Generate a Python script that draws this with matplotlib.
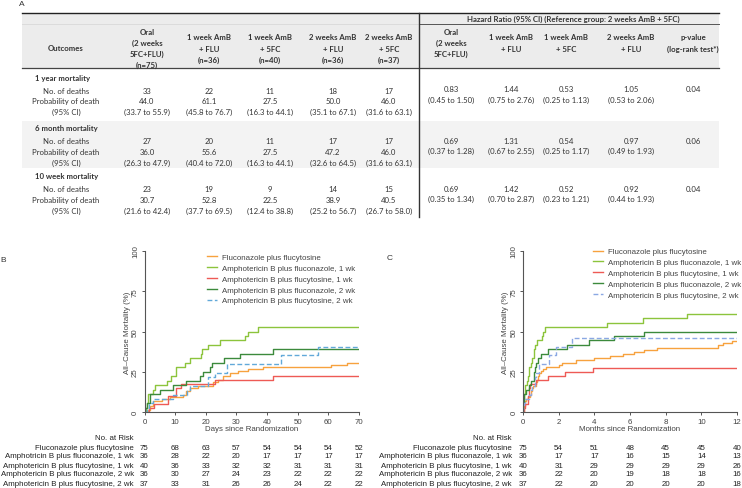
import numpy as np
import matplotlib.pyplot as plt
from matplotlib.transforms import blended_transform_factory

# ---------- Panel A: mortality table ----------
arm_heads = ["Oral\n(2 weeks\n5FC+FLU)\n(n=75)", "1 week AmB\n+ FLU\n(n=36)", "1 week AmB\n+ 5FC\n(n=40)",
             "2 weeks AmB\n+ FLU\n(n=36)", "2 weeks AmB\n+ 5FC\n(n=37)"]
hr_heads = ["Oral\n(2 weeks\n5FC+FLU)", "1 week AmB\n+ FLU", "1 week AmB\n+ 5FC", "2 weeks AmB\n+ FLU",
            "p-value\n(log-rank test*)"]
hr_title = "Hazard Ratio (95% CI) (Reference group: 2 weeks AmB + 5FC)"
outcomes = ["1 year mortality", "6 month mortality", "10 week mortality"]
row_labels = ["No. of deaths", "Probability of death", "(95% CI)"]
n_deaths = [[33, 22, 11, 18, 17], [27, 20, 11, 17, 17], [23, 19, 9, 14, 15]]
p_death = [[44.0, 61.1, 27.5, 50.0, 46.0], [36.0, 55.6, 27.5, 47.2, 46.0], [30.7, 52.8, 22.5, 38.9, 40.5]]
p_lo = [[33.7, 45.8, 16.3, 35.1, 31.6], [26.3, 40.4, 16.3, 32.6, 31.6], [21.6, 37.7, 12.4, 25.2, 26.7]]
p_hi = [[55.9, 76.7, 44.1, 67.1, 63.1], [47.9, 72.0, 44.1, 64.5, 63.1], [42.4, 69.5, 38.8, 56.7, 58.0]]
hr = [[0.83, 1.44, 0.53, 1.05], [0.69, 1.31, 0.54, 0.97], [0.69, 1.42, 0.52, 0.92]]
hr_lo = [[0.45, 0.75, 0.25, 0.53], [0.37, 0.67, 0.25, 0.49], [0.35, 0.70, 0.23, 0.44]]
hr_hi = [[1.50, 2.76, 1.13, 2.06], [1.28, 2.55, 1.17, 1.93], [1.34, 2.87, 1.21, 1.93]]
p_logrank = ["0.04", "0.06", "0.04"]

# ---------- Panels B/C: Kaplan-Meier data (days of death) ----------
arms = ["Fluconazole plus flucytosine", "Amphotericin B plus fluconazole, 1 wk",
        "Amphotericin B plus flucytosine, 1 wk", "Amphotericin B plus fluconazole, 2 wk",
        "Amphotericin B plus flucytosine, 2 wk"]
risk_names_b = ["Fluconazole plus flucytosine", "Amphotricin B plus fluconazole, 1 wk",
                "Amphotericin B plus flucytosine, 1 wk", "Amphotericin B plus fluconazole, 2 wk",
                "Amphotericin B plus flucytosine, 2 wk"]
arm_n = [75, 36, 40, 36, 37]
death_days = [
    [1.2, 1.8, 1.8, 2.9, 2.9, 5.6, 8.3, 12.6, 13.7, 13.7, 14.8, 17.5, 22.4, 22.4, 24, 25.7, 25.7, 28,
     30.5, 33.8, 38.7, 61, 66, 91, 122, 149, 170, 189, 207, 228, 332, 341, 356],
    [0.5, 0.8, 1.0, 1.3, 2.7, 3.4, 7.2, 8.8, 10.2, 10.4, 13.2, 14.8, 18.6, 18.8, 20.8, 24.5, 32.7,
     33.8, 36.9, 143, 204, 280],
    [1.5, 3.0, 7.8, 7.8, 10.2, 10.2, 12.0, 22.9, 42.0, 72, 119],
    [0.3, 0.8, 1.8, 1.8, 5.0, 9.4, 13.7, 18.1, 19.2, 21.3, 21.9, 25.9, 31.1, 42.0, 75, 112, 155, 207],
    [0.7, 1.5, 2.9, 9.4, 14.0, 14.8, 20.8, 20.8, 23.0, 26.8, 26.8, 44.7, 44.7, 56.6, 56.6, 84, 84],
]
colors_b = ["#F7A23E", "#8CC43C", "#EE5A55", "#3C8A3C", "#62A9D9"]
colors_c = ["#F7A23E", "#8CC43C", "#EE5A55", "#3C8A3C", "#8AA8E3"]

risk_days = [0, 10, 20, 30, 40, 50, 60, 70]
risk_b = [[75, 68, 63, 57, 54, 54, 54, 52],
          [36, 28, 22, 20, 17, 17, 17, 17],
          [40, 36, 33, 32, 32, 31, 31, 31],
          [36, 30, 27, 24, 23, 22, 22, 22],
          [37, 33, 31, 26, 26, 24, 22, 22]]
risk_months = [0, 2, 4, 6, 8, 10, 12]
risk_c = [[75, 54, 51, 48, 45, 45, 40],
          [36, 17, 17, 16, 15, 14, 13],
          [40, 31, 29, 29, 29, 29, 26],
          [36, 22, 20, 19, 18, 18, 16],
          [37, 22, 20, 20, 20, 20, 18]]

plt.rcParams['font.family'] = ['Liberation Sans', 'DejaVu Sans']
TAB = 'Lato'
W, H = 742, 489
fig = plt.figure(figsize=(W / 100, H / 100), dpi=100)

# overlay axes in pixel units for the table and free text
axo = fig.add_axes([0, 0, 1, 1])
axo.set_xlim(0, W)
axo.set_ylim(H, 0)
axo.axis('off')

fs_t = 5.6
tc = '#333333'


def mtext(x, yc, s, pitch, **kw):
    lines = s.split('\n')
    k = len(lines)
    for i, ln in enumerate(lines):
        axo.text(x, yc + (i - (k - 1) / 2) * pitch, ln, ha='center', va='center',
                 family=TAB, fontsize=fs_t, color=tc, **kw)


left_x = [147, 209, 270, 333, 389]
right_x = [451, 511, 566, 631, 693]
lab_x = 66
x0, x1, xv = 22, 719, 419

# backgrounds and rules
axo.fill_between([x0, x1], 14, 69, color='#ececec', lw=0)
axo.fill_between([x0, x1], 122, 169, color='#f3f3f3', lw=0)
axo.plot([x0, x1], [14, 14], color='#222222', lw=1.0)
axo.plot([xv, x1], [25, 25], color='#555555', lw=0.7)
axo.plot([x0, xv], [25, 25], color='#d8d8d8', lw=0.6)
axo.plot([x0, x1], [69, 69], color='#444444', lw=0.9)
axo.plot([xv, xv], [14, 218], color='#333333', lw=1.0)

axo.text(573, 19.5, hr_title, ha='center', va='center', family=TAB, fontsize=fs_t,
         weight='bold', color=tc)
mtext(lab_x, 48.5, "Outcomes", 11, weight='bold')
for x, h in zip(left_x, arm_heads):
    mtext(x, 49, h, 11.2, weight='bold')
for x, h in zip(right_x, hr_heads):
    mtext(x, 43.5, h, 11.2, weight='bold')

sec_y = [78, 129, 177]
for s in range(3):
    axo.text(35, sec_y[s], outcomes[s], ha='left', va='center', family=TAB, fontsize=fs_t,
             weight='bold', color=tc)
    base = sec_y[s] + 13
    for r, lab in enumerate(row_labels):
        mtext(lab_x, base + r * 10.7, lab, 11)
    for j in range(5):
        mtext(left_x[j], base, str(n_deaths[s][j]), 11)
        mtext(left_x[j], base + 10.7, f"{p_death[s][j]:.1f}", 11)
        mtext(left_x[j], base + 21.4, f"({p_lo[s][j]:.1f} to {p_hi[s][j]:.1f})", 11)
    for j in range(4):
        mtext(right_x[j], base - 1, f"{hr[s][j]:.2f}", 11)
        mtext(right_x[j], base + 9, f"({hr_lo[s][j]:.2f} to {hr_hi[s][j]:.2f})", 11)
    mtext(right_x[4], base - 1, p_logrank[s], 11)

axo.text(22, 5, "A", ha='center', va='center', fontsize=6, color=tc)
axo.text(3, 260, "B", ha='center', va='center', fontsize=6, color=tc)
axo.text(390, 258, "C", ha='center', va='center', fontsize=6, color=tc)

# ---------- KM panels ----------
fs_k = 5.7
gc = '#444444'


def km_xy(days, n, scale, tmax):
    t = np.sort(np.asarray(days, dtype=float)) / scale
    t = t[t <= tmax]
    x = np.concatenate([[0], t, [tmax]])
    cum = np.arange(1, len(t) + 1) / n * 100
    y = np.concatenate([[0], cum, [cum[-1]]])
    return x, y


def km_panel(rect, scale, tmax, xticks, xlabel, colors, leg_anchor, names, risk_t, risk, lab_right):
    ax = fig.add_axes(rect)
    ax.set_facecolor('none')
    for i in range(5):
        x, y = km_xy(death_days[i], arm_n[i], scale, tmax)
        kw = dict(dashes=(3.5, 1.8)) if i == 4 else {}
        ax.step(x, y, where='post', color=colors[i], lw=1.0, label=arms[i], **kw)
    ax.set_xlim(0, tmax)
    ax.set_ylim(0, 100)
    ax.set_xticks(xticks)
    ax.set_yticks([0, 25, 50, 75, 100])
    for sp in ['top', 'right']:
        ax.spines[sp].set_visible(False)
    for sp in ['left', 'bottom']:
        ax.spines[sp].set_color('#555555')
        ax.spines[sp].set_linewidth(0.8)
    ax.tick_params(length=2.5, width=0.7, color='#555555', labelsize=fs_k, labelcolor=gc, pad=1.5)
    ax.tick_params(axis='y', labelrotation=90)
    for lab in ax.get_yticklabels():
        lab.set_va('center')
    ax.set_xlabel(xlabel, fontsize=fs_k, color=gc, labelpad=0)
    ax.set_ylabel("All\u2013Cause Mortality (%)", fontsize=fs_k, color=gc, labelpad=1)
    leg = ax.legend(loc='upper left', bbox_to_anchor=leg_anchor, frameon=False, fontsize=fs_k,
                    handlelength=1.3, handletextpad=0.6, labelspacing=0.42, borderpad=0,
                    borderaxespad=0)
    for t in leg.get_texts():
        t.set_color(gc)
    # number at risk table
    tr = blended_transform_factory(ax.transData, axo.transData)
    axo.text(lab_right, 438, "No. at Risk", ha='right', va='center', fontsize=fs_k, color='#222222')
    for i in range(5):
        yy = 448 + i * 9
        axo.text(lab_right, yy, names[i], ha='right', va='center', fontsize=fs_k, color='#222222')
        for t, v in zip(risk_t, risk[i]):
            axo.text(t, yy, str(v), transform=tr, ha='center', va='center', fontsize=fs_k,
                     color='#222222')
    return ax


km_panel([144.5 / W, 76 / H, 214.5 / W, 161 / H], 1.0, 70, range(0, 71, 10),
         "Days since Randomization", colors_b, (0.291, 0.985), risk_names_b, risk_days, risk_b, 134)
km_panel([523 / W, 76 / H, 214 / W, 161 / H], 30.44, 12, range(0, 13, 2),
         "Months since Randomization", colors_c, (0.327, 1.02), arms, risk_months, risk_c, 512)

fig.savefig("out.png", dpi=100)
